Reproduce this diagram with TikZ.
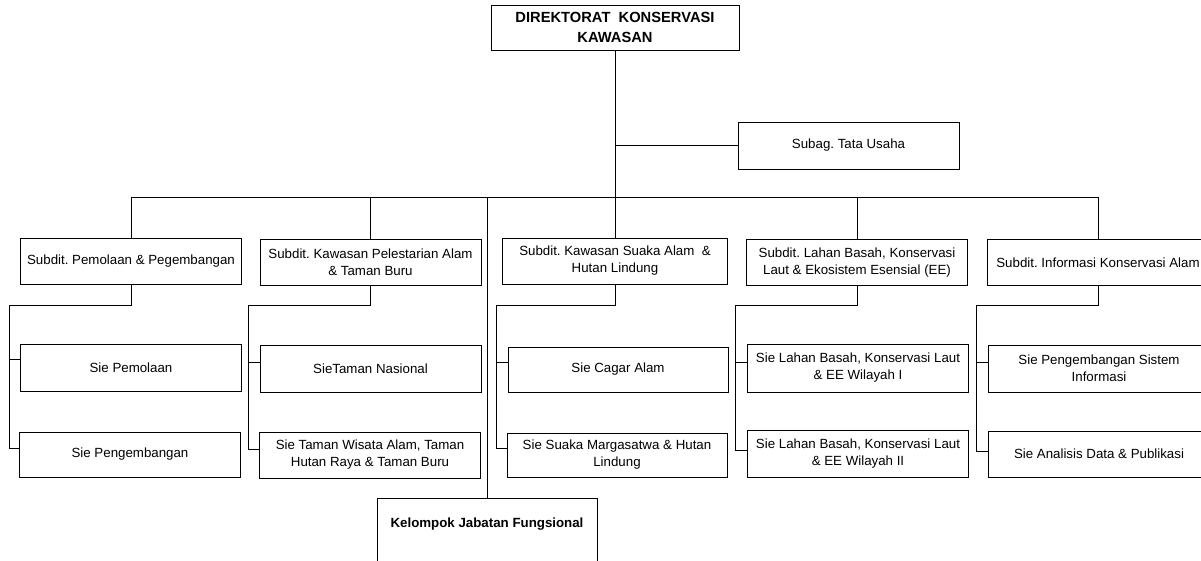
\documentclass[tikz,border=0pt]{standalone}
\usepackage{fontspec}
\setmainfont{Liberation Sans}
\frenchspacing
\begin{document}
\begin{tikzpicture}[x=1pt,y=-1pt,
  box/.style={draw=black, line width=0.9pt, minimum width=221pt, minimum height=46pt, align=center, inner sep=2pt,
    font=\fontsize{13.3}{17}\selectfont},
  conn/.style={draw=black, line width=0.8pt}]
\useasboundingbox (0,0) rectangle (1201,561);
\clip (0,0) rectangle (1201,561);
% top
\node[box, minimum width=248pt, minimum height=45pt, font=\bfseries\fontsize{14.7}{20}\selectfont] (dir) at (615,27.5) {DIREKTORAT~~KONSERVASI\\KAWASAN};
\node[box, minimum height=47pt] (tu) at (848.5,145.5) {Subag. Tata Usaha};
% subdits
\node[box] (s1) at (131,261) {Subdit. Pemolaan \& Pegembangan};
\node[box] (s2) at (370.5,262.5) {Subdit. Kawasan Pelestarian Alam\\\& Taman Buru};
\node[box, minimum width=225pt] (s3) at (615,261) {Subdit. Kawasan Suaka Alam~~\&\\Hutan Lindung};
\node[box] (s4) at (857,262.5) {Subdit. Lahan Basah, Konservasi\\Laut \& Ekosistem Esensial (EE)};
\node[box] (s5) at (1098,262.5) {Subdit. Informasi Konservasi Alam};
% sies
\node[box, minimum height=47pt] (a1) at (131,367.5) {Sie Pemolaan};
\node[box, minimum height=45pt] (a2) at (130,454.5) {Sie Pengembangan};
\node[box, minimum height=47pt] (b1) at (370.5,368.5) {SieTaman Nasional};
\node[box] (b2) at (370,455) {Sie Taman Wisata Alam, Taman\\Hutan Raya \& Taman Buru};
\node[box, minimum width=220pt, minimum height=45pt] (c1) at (618,369.5) {Sie Cagar Alam};
\node[box, minimum width=220pt, minimum height=44pt] (c2) at (617,455) {Sie Suaka Margasatwa \& Hutan\\Lindung};
\node[box, minimum height=48pt] (d1) at (858,368) {Sie Lahan Basah, Konservasi Laut\\\& EE Wilayah I};
\node[box, minimum height=47pt] (d2) at (858,453.5) {Sie Lahan Basah, Konservasi Laut\\\& EE Wilayah II};
\node[box, minimum height=47pt] (e1) at (1099,368.5) {Sie Pengembangan Sistem\\Informasi};
\node[box] (e2) at (1099,454) {Sie Analisis Data \& Publikasi};
% kelompok
\node[box, minimum width=220pt, minimum height=80pt, anchor=north] (kjf) at (487,498) {};
\node[font=\bfseries\fontsize{13.3}{17}\selectfont, inner sep=0pt] (kjft) at (487,524) {Kelompok Jabatan Fungsional};
% coordinates
\coordinate (busL) at (131,197);
\coordinate (busR) at (1098,197);
\coordinate (busT) at (615,197);
\coordinate (busK) at (487,197);
% connectors upper
\draw[conn] (dir.south) -- (busT);
\draw[conn] (dir.south |- tu.west) -- (tu.west);
\draw[conn] (busL) -- (busR);
\draw[conn] (busL) -- (s1.north);
\draw[conn] (s2.north |- busL) -- (s2.north);
\draw[conn] (busT) -- (s3.north);
\draw[conn] (s4.north |- busL) -- (s4.north);
\draw[conn] (busR) -- (s5.north);
\draw[conn] (busK) -- (kjf.north);
% sub-level connectors
\coordinate (v1t) at (9,305);   \coordinate (v1b) at (9,448);
\coordinate (v2t) at (248,305); \coordinate (v2b) at (248,449);
\coordinate (v3t) at (496,305); \coordinate (v3b) at (496,448);
\coordinate (v4t) at (735,305); \coordinate (v4b) at (735,450);
\coordinate (v5t) at (976,305); \coordinate (v5b) at (976,451);
\draw[conn] (s1.south) -- (s1.south |- v1t) -- (v1t) -- (v1b) -- (a2.west |- v1b);
\draw[conn] (v1t |- 0,359) -- (a1.west |- 0,359);
\draw[conn] (s2.south) -- (s2.south |- v2t) -- (v2t) -- (v2b) -- (b2.west |- v2b);
\draw[conn] (v2t |- 0,362) -- (b1.west |- 0,362);
\draw[conn] (s3.south) -- (s3.south |- v3t) -- (v3t) -- (v3b) -- (c2.west |- v3b);
\draw[conn] (v3t |- 0,362) -- (c1.west |- 0,362);
\draw[conn] (s4.south) -- (s4.south |- v4t) -- (v4t) -- (v4b) -- (d2.west |- v4b);
\draw[conn] (v4t |- 0,362) -- (d1.west |- 0,362);
\draw[conn] (s5.south) -- (s5.south |- v5t) -- (v5t) -- (v5b) -- (e2.west |- v5b);
\draw[conn] (v5t |- 0,362) -- (e1.west |- 0,362);
\end{tikzpicture}
\end{document}
